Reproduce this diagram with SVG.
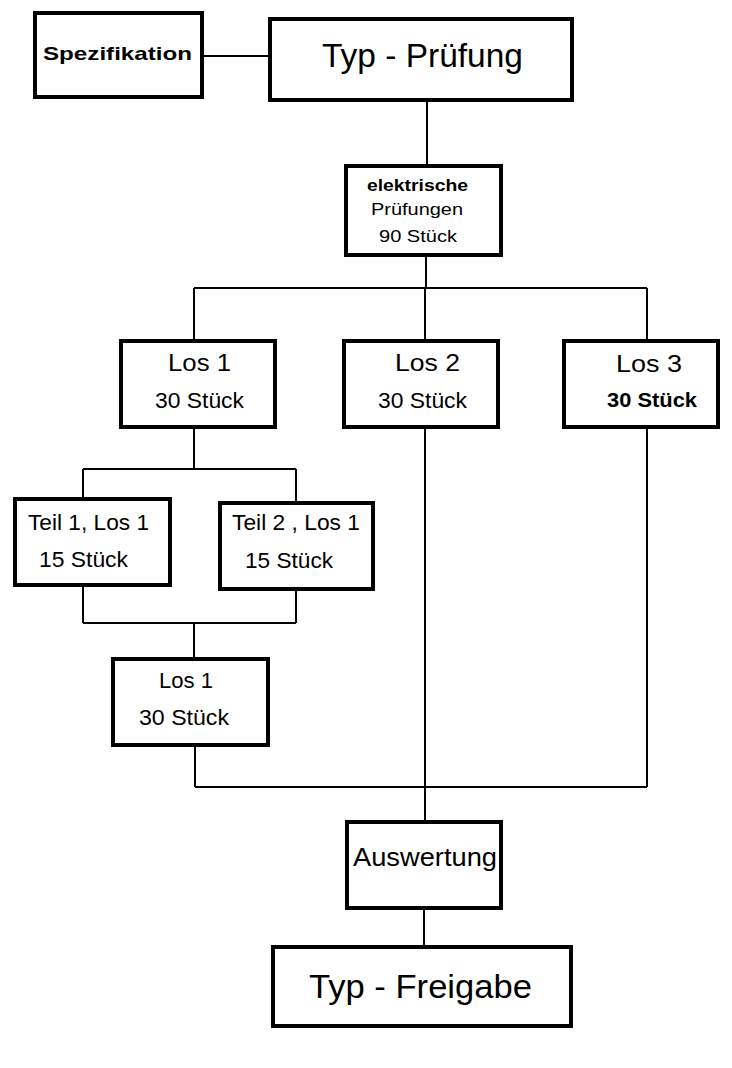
<svg xmlns="http://www.w3.org/2000/svg" width="732" height="1068" viewBox="0 0 732 1068">
<style>
.box{fill:#fff;stroke:#000;stroke-width:4}
.ln{fill:none;stroke:#000;stroke-width:2}
text{font-family:"Liberation Sans",Arial,sans-serif;fill:#000}
.b{font-weight:bold}
</style>
<rect width="732" height="1068" fill="#fff"/>
<g id="connectors" class="ln">
<path d="M204 56H268"/>
<path d="M427 102V164"/>
<path d="M426 257V288"/>
<path d="M194 288H647"/>
<path d="M194 288V339"/>
<path d="M425 288V339"/>
<path d="M647 288V339"/>
<path d="M194 429V469"/>
<path d="M83 469H296"/>
<path d="M83 469V497"/>
<path d="M296 469V501"/>
<path d="M83 587V623"/>
<path d="M296 591V623"/>
<path d="M83 623H296"/>
<path d="M194 623V657"/>
<path d="M195 747V787"/>
<path d="M195 787H647"/>
<path d="M647 429V787"/>
<path d="M425 429V820"/>
<path d="M424 910V945"/>
</g>
<g id="spezifikation"><rect class="box" x="35" y="13" width="167" height="84"/><text class="b" x="43" y="60" font-size="19" textLength="149" lengthAdjust="spacingAndGlyphs">Spezifikation</text></g>
<g id="typ-pruefung"><rect class="box" x="270" y="19" width="302" height="81"/><text x="322" y="67" font-size="33" textLength="201" lengthAdjust="spacingAndGlyphs">Typ - Prüfung</text></g>
<g id="elektrische"><rect class="box" x="346" y="166" width="155" height="89"/><text class="b" x="367" y="191" font-size="16" textLength="101" lengthAdjust="spacingAndGlyphs">elektrische</text><text x="371" y="215" font-size="17" textLength="92" lengthAdjust="spacingAndGlyphs">Prüfungen</text><text x="379" y="242" font-size="17" textLength="78" lengthAdjust="spacingAndGlyphs">90 Stück</text></g>
<g id="los1"><rect class="box" x="121" y="341" width="154" height="86"/><text x="168" y="371" font-size="24" textLength="63" lengthAdjust="spacingAndGlyphs">Los 1</text><text x="155" y="408" font-size="22" textLength="89" lengthAdjust="spacingAndGlyphs">30 Stück</text></g>
<g id="los2"><rect class="box" x="344" y="341" width="154" height="86"/><text x="395" y="371" font-size="24" textLength="65" lengthAdjust="spacingAndGlyphs">Los 2</text><text x="378" y="408" font-size="22" textLength="89" lengthAdjust="spacingAndGlyphs">30 Stück</text></g>
<g id="los3"><rect class="box" x="564" y="341" width="154" height="86"/><text x="616" y="372" font-size="24" textLength="66" lengthAdjust="spacingAndGlyphs">Los 3</text><text class="b" x="607" y="407" font-size="21" textLength="90" lengthAdjust="spacingAndGlyphs">30 Stück</text></g>
<g id="teil1"><rect class="box" x="15" y="499" width="155" height="86"/><text x="28" y="530" font-size="22" textLength="121" lengthAdjust="spacingAndGlyphs">Teil 1, Los 1</text><text x="39" y="567" font-size="22" textLength="89" lengthAdjust="spacingAndGlyphs">15 Stück</text></g>
<g id="teil2"><rect class="box" x="220" y="503" width="153" height="86"/><text x="232" y="530" font-size="22" textLength="128" lengthAdjust="spacingAndGlyphs">Teil 2 , Los 1</text><text x="245" y="568" font-size="22" textLength="88" lengthAdjust="spacingAndGlyphs">15 Stück</text></g>
<g id="los1-merged"><rect class="box" x="113" y="659" width="155" height="86"/><text x="159" y="688" font-size="22" textLength="54" lengthAdjust="spacingAndGlyphs">Los 1</text><text x="139" y="725" font-size="22" textLength="90" lengthAdjust="spacingAndGlyphs">30 Stück</text></g>
<g id="auswertung"><rect class="box" x="347" y="822" width="154" height="86"/><text x="353" y="866" font-size="25" textLength="144" lengthAdjust="spacingAndGlyphs">Auswertung</text></g>
<g id="typ-freigabe"><rect class="box" x="273" y="947" width="298" height="79"/><text x="309" y="998" font-size="33" textLength="223" lengthAdjust="spacingAndGlyphs">Typ - Freigabe</text></g>
</svg>
